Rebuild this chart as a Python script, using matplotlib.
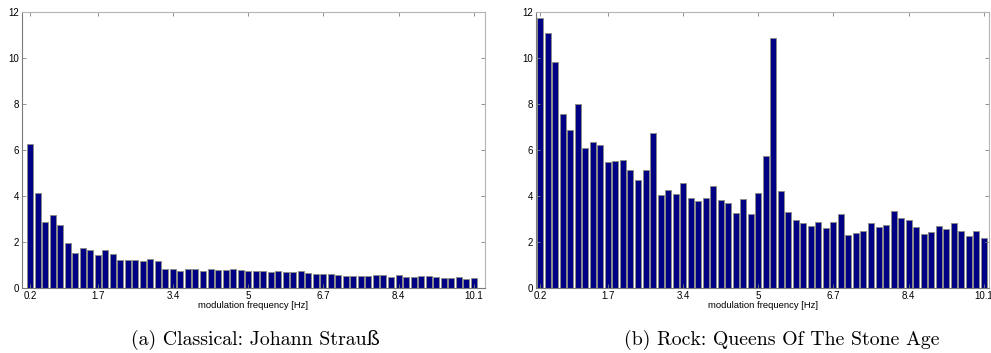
import numpy as np
import matplotlib.pyplot as plt

# modulation spectrum, 60 bins each
classical = [6.26, 4.12, 2.88, 3.17, 2.72, 1.97, 1.51, 1.75, 1.67, 1.43,
             1.64, 1.49, 1.20, 1.20, 1.20, 1.16, 1.25, 1.18, 0.84, 0.84,
             0.74, 0.81, 0.84, 0.75, 0.84, 0.77, 0.77, 0.81, 0.80, 0.75,
             0.74, 0.73, 0.68, 0.75, 0.70, 0.69, 0.72, 0.67, 0.60, 0.62,
             0.62, 0.57, 0.52, 0.52, 0.52, 0.52, 0.58, 0.55, 0.46, 0.57,
             0.47, 0.47, 0.54, 0.51, 0.46, 0.44, 0.45, 0.50, 0.38, 0.45]
rock = [11.74, 11.10, 9.84, 7.55, 6.88, 8.00, 6.09, 6.33, 6.22, 5.46,
        5.53, 5.56, 5.14, 4.70, 5.14, 6.75, 4.03, 4.26, 4.07, 4.56,
        3.93, 3.77, 3.91, 4.45, 3.81, 3.68, 3.25, 3.88, 3.20, 4.11,
        5.73, 10.87, 4.20, 3.29, 2.96, 2.83, 2.68, 2.88, 2.61, 2.86,
        3.20, 2.29, 2.38, 2.46, 2.81, 2.67, 2.75, 3.33, 3.04, 2.94,
        2.67, 2.35, 2.42, 2.68, 2.58, 2.81, 2.48, 2.28, 2.46, 2.19]
tick_bins = [1, 10, 20, 30, 40, 50, 60]
tick_labels = ['0.2', '1.7', '3.4', '5', '6.7', '8.4', '10.1']
captions = ['(a) Classical: Johann Strauß', '(b) Rock: Queens Of The Stone Age']

fig = plt.figure(figsize=(9.91, 3.53), dpi=100)
ax1 = fig.add_axes([22/991, 65/353, 463/991, 276/353])
ax2 = fig.add_axes([536/991, 65/353, 453/991, 276/353])

for ax, vals, xlim in [(ax1, classical, (-0.07, 61.5)), (ax2, rock, (0.43, 60.7))]:
    x = np.arange(1, len(vals) + 1)
    ax.bar(x, vals, width=0.8, color='#000085', edgecolor='#8c8c8c', linewidth=0.7)
    ax.set_xlim(*xlim)
    ax.set_ylim(0, 12)
    ax.set_yticks(range(0, 13, 2))
    ax.set_xticks(tick_bins)
    ax.set_xticklabels(tick_labels)
    ax.tick_params(direction='in', length=3, width=0.6, color='#808080',
                   labelsize=7, top=True, right=True, pad=2)
    for lbl in ax.get_xticklabels() + ax.get_yticklabels():
        lbl.set_family('Liberation Sans')
    for side in ['left', 'bottom']:
        ax.spines[side].set_color('#7a7a7a')
    for side in ['top', 'right']:
        ax.spines[side].set_color('#b4b4b4')
    for s in ax.spines.values():
        s.set_linewidth(0.8)
    ax.set_xlabel('modulation frequency [Hz]', fontsize=6.8, family='Liberation Sans', labelpad=0.5)

fig.text(255/991, 13/353, captions[0], ha='center', va='center',
         fontsize=14.3, family=['cmr10', 'DejaVu Serif'])
fig.text(782/991, 13/353, captions[1], ha='center', va='center',
         fontsize=14.3, family=['cmr10', 'DejaVu Serif'])

fig.savefig('out.png', dpi=100)
